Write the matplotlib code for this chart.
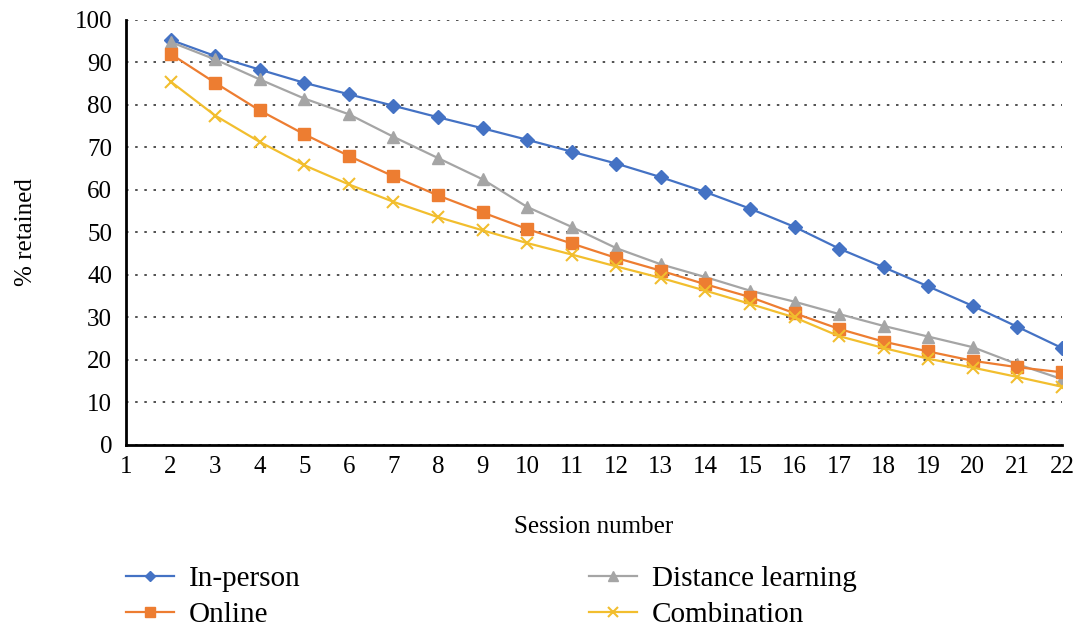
import numpy as np
import matplotlib.pyplot as plt

plt.rcParams['font.family'] = ['Liberation Serif', 'DejaVu Serif']

# session numbers and retention (%) for each delivery mode
sessions = np.arange(2, 23)
in_person = [95.3, 91.5, 88.3, 85.2, 82.5, 79.8, 77.1, 74.5, 71.8, 69.0, 66.2,
             63.0, 59.5, 55.6, 51.3, 46.2, 41.8, 37.3, 32.7, 27.8, 22.8]
online = [92.0, 85.2, 78.7, 73.1, 68.0, 63.2, 58.7, 54.7, 50.8, 47.4, 44.0,
          41.0, 37.8, 34.8, 31.0, 27.3, 24.3, 22.0, 19.8, 18.3, 17.1]
distance = [94.8, 90.7, 86.0, 81.5, 77.8, 72.5, 67.5, 62.5, 56.0, 51.3, 46.3,
            42.5, 39.5, 36.3, 33.7, 30.8, 28.0, 25.5, 23.0, 19.0, 15.5]
combination = [85.5, 77.5, 71.3, 65.8, 61.3, 57.2, 53.6, 50.5, 47.5, 44.8, 42.0,
               39.3, 36.3, 33.2, 30.0, 25.6, 22.8, 20.3, 18.2, 16.0, 13.7]

fig = plt.figure(figsize=(10.74, 6.27), dpi=100)
ax = fig.add_axes([0.1173, 0.2903, 0.8715, 0.678])

l1, = ax.plot(sessions, in_person, color='#4472C4', marker='D', markersize=7, lw=1.6, label='In-person')
l3, = ax.plot(sessions, distance, color='#A5A5A5', marker='^', markersize=9, lw=1.6, label='Distance learning')
l2, = ax.plot(sessions, online, color='#ED7D31', marker='s', markersize=9, lw=1.6, label='Online')
l4, = ax.plot(sessions, combination, color='#F2BE2E', marker='x', markersize=9, mew=1.5, lw=1.6, label='Combination')

ax.set_xlim(1, 22)
ax.set_ylim(0, 100)
ax.set_xticks(np.arange(1, 23))
ax.set_yticks(np.arange(0, 101, 10))
ax.tick_params(length=0, labelsize=18)
ax.tick_params(axis='x', pad=8)
ax.tick_params(axis='y', pad=10)
ax.grid(axis='y', linestyle=(0, (1.5, 4)), color='#333333', lw=1.2)
ax.set_axisbelow(True)
for s in ['top', 'right']:
    ax.spines[s].set_visible(False)
for s in ['left', 'bottom']:
    ax.spines[s].set_linewidth(2)
    ax.spines[s].set_color('black')

ax.set_xlabel('Session number', fontsize=18, labelpad=27)
ax.set_ylabel('% retained', fontsize=18, labelpad=27)

# legend sits below the axes in two columns
fig.legend(handles=[l1, l2, l3, l4], ncol=2, loc='upper left',
           bbox_to_anchor=(126 / 1074, 1 - 566 / 627), frameon=False, fontsize=21,
           borderpad=0, borderaxespad=0, columnspacing=9.9, handlelength=1.65,
           handletextpad=0.5, labelspacing=0.32, markerscale=0.75)

fig.savefig('out.png', dpi=100)
